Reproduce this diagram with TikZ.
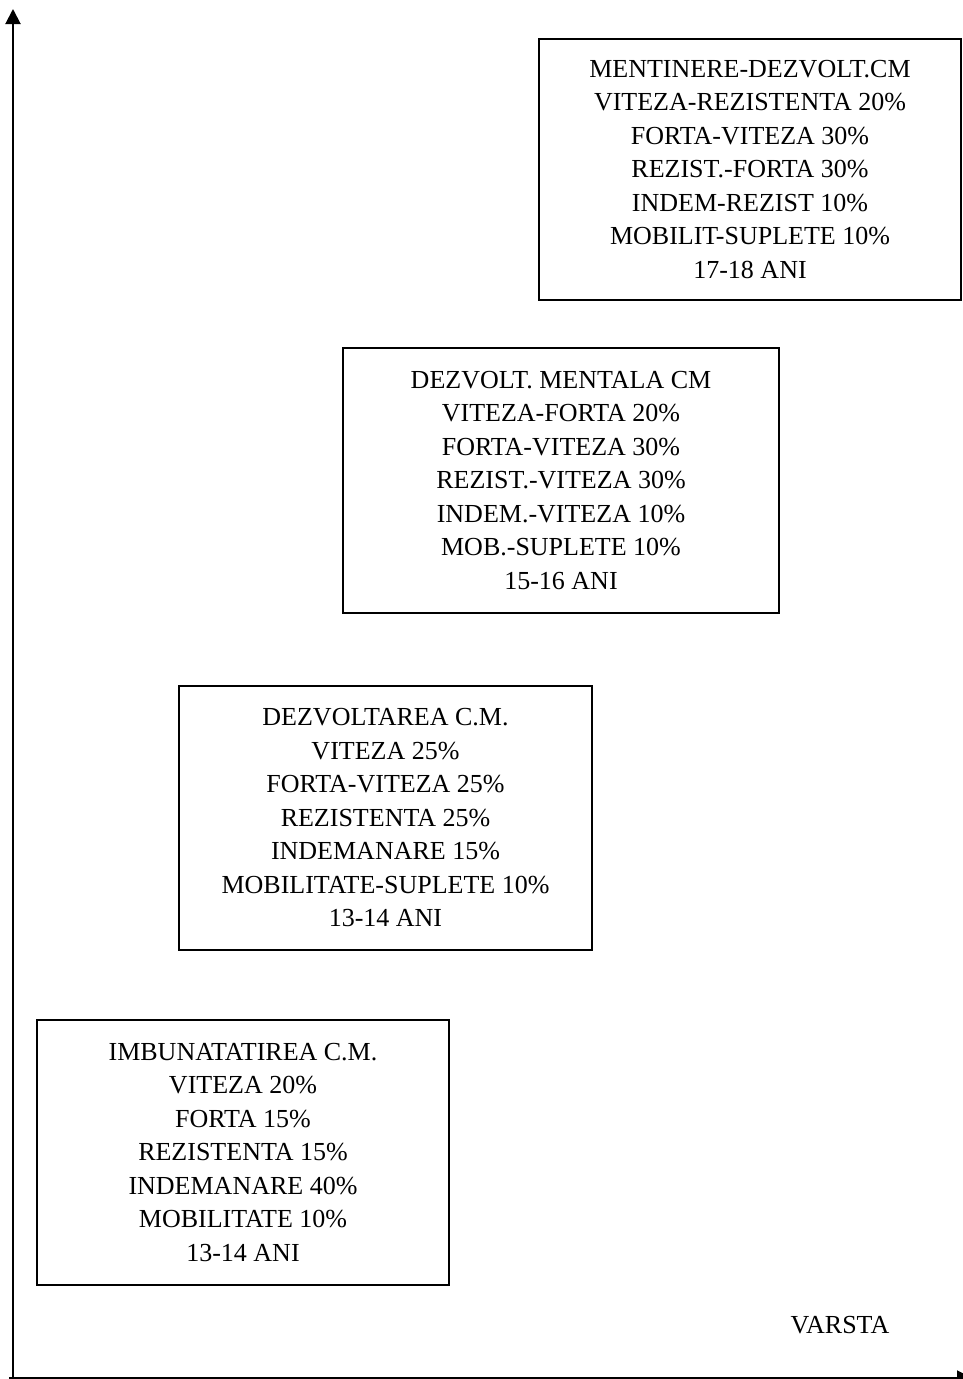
\documentclass[tikz,border=0pt]{standalone}
\usepackage{fontspec}
\setmainfont{Liberation Serif}
\usetikzlibrary{arrows.meta}
\tikzset{
  box/.style={draw, line width=2pt, inner sep=0pt, align=center,
    font=\fontsize{26}{33.5}\selectfont},
  axis/.style={line width=2pt, -{Triangle[length=15pt,width=15pt]}},
  lbl/.style={font=\fontsize{26}{33.5}\selectfont, inner sep=0pt}
}
\begin{document}
\begin{tikzpicture}[x=1pt,y=-1pt]
\useasboundingbox (0,0) rectangle (962,1379);
\fill[white] (0,0) rectangle (962,1379);
\coordinate (ytop) at (13,9);
\coordinate (xend) at (972,1378);
\coordinate (ybot) at (13,1382);
\coordinate (xbeg) at (9,1378);
\draw[axis] (ybot) -- (ytop);
\draw[axis] (xbeg) -- (xend);

\node[box, minimum width=422pt, minimum height=261pt] (b1) at (750,169.5)
  {MENTINERE-DEZVOLT.CM\\VITEZA-REZISTENTA 20\%\\FORTA-VITEZA 30\%\\REZIST.-FORTA 30\%\\INDEM-REZIST 10\%\\MOBILIT-SUPLETE 10\%\\17-18 ANI};
\node[box, minimum width=436pt, minimum height=265pt] (b2) at (561,480.3)
  {DEZVOLT. MENTALA CM\\VITEZA-FORTA 20\%\\FORTA-VITEZA 30\%\\REZIST.-VITEZA 30\%\\INDEM.-VITEZA 10\%\\MOB.-SUPLETE 10\%\\15-16 ANI};
\node[box, minimum width=413pt, minimum height=264pt] (b3) at (385.5,818)
  {DEZVOLTAREA C.M.\\VITEZA 25\%\\FORTA-VITEZA 25\%\\REZISTENTA 25\%\\INDEMANARE 15\%\\MOBILITATE-SUPLETE 10\%\\13-14 ANI};
\node[box, minimum width=412pt, minimum height=265pt] (b4) at (243,1152.5)
  {IMBUNATATIREA C.M.\\VITEZA 20\%\\FORTA 15\%\\REZISTENTA 15\%\\INDEMANARE 40\%\\MOBILITATE 10\%\\13-14 ANI};
\node[lbl] (varsta) at (840,1325) {VARSTA};
\end{tikzpicture}
\end{document}
